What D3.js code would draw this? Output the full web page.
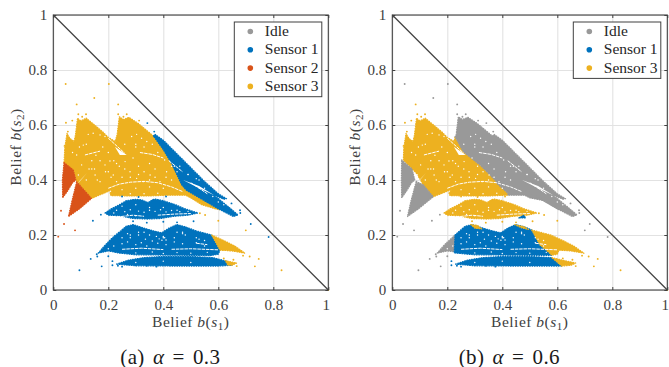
<!DOCTYPE html>
<html>
<head>
<meta charset="utf-8">
<script src="https://cdn.jsdelivr.net/npm/d3@7"></script>
<style>
html, body { margin: 0; padding: 0; background: #fff; }
text { font-family: "Liberation Serif", serif; fill: #262626; }
</style>
</head>
<body>
<div id="chart"></div>
<script>
var tickValues = [0, 0.2, 0.4, 0.6, 0.8, 1];
var tickLabels = ["0", "0.2", "0.4", "0.6", "0.8", "1"];
var actionNames = ["Idle", "Sensor 1", "Sensor 2", "Sensor 3"];
var actionColors = ["#999999", "#0072BD", "#D95319", "#EDB120"];

// region outlines, in belief coordinates
var upperLeftPart = [[.042,.52],[.05,.57],[.056,.558],[.062,.55],[.075,.54],[.08,.56],[.088,.625],[.1,.615],[.12,.625],[.15,.60],[.18,.575],[.2,.555],[.225,.54]];
var upperRightPart = [[.232,.565],[.24,.63],[.255,.62],[.275,.628],[.31,.605],[.34,.58],[.364,.56]];
var blueRidge = [[.37,.566],[.40,.545],[.45,.495],[.5,.445],[.55,.395],[.60,.35],[.63,.332],[.62,.33],[.585,.345],[.64,.30],[.672,.273],[.655,.267],[.6,.295],[.54,.33],[.485,.362]];
var lensBottom = [[.42,.345],[.35,.342],[.28,.342],[.21,.343],[.206,.352],[.215,.365]];

var orangeUpperA = [[.039,.464]].concat(upperLeftPart, upperRightPart, [[.40,.51],[.43,.46],[.467,.382],[.49,.362],[.55,.325],[.606,.292],[.59,.295],[.54,.31],[.5,.335],[.48,.345]], lensBottom, [[.139,.333],[.085,.394],[.073,.436]]);
var blueUpperA = [[.364,.56]].concat(blueRidge, [[.467,.382],[.43,.46],[.40,.51]]);
var redFingerOneA = [[.039,.464],[.073,.436],[.082,.40],[.07,.39],[.052,.36],[.034,.335],[.033,.40]];
var redFingerTwoA = [[.085,.394],[.115,.36],[.139,.333],[.095,.295],[.055,.267],[.068,.325]];

var orangeUpperB = [[.04,.473]].concat(upperLeftPart, [[.228,.557],[.258,.503],[.325,.449],[.373,.40],[.38,.388],[.42,.352]], lensBottom, [[.149,.339],[.113,.382],[.088,.424]]);
var grayUpperB = [[.228,.557]].concat(upperRightPart, blueRidge, [[.606,.292],[.55,.325],[.5,.335],[.48,.345],[.42,.345],[.42,.352],[.38,.388],[.373,.40],[.325,.449],[.258,.503]]);
var grayFingerOneB = [[.034,.473],[.072,.44],[.082,.40],[.07,.39],[.052,.36],[.034,.335],[.033,.40]];
var grayFingerTwoB = [[.087,.395],[.113,.382],[.149,.339],[.095,.295],[.055,.267],[.068,.325]];

var layerThree = [[.188,.28],[.21,.295],[.24,.31],[.265,.325],[.297,.33],[.32,.328],[.345,.318],[.36,.328],[.37,.331],[.40,.325],[.44,.312],[.48,.295],[.526,.28],[.49,.272],[.44,.268],[.39,.26],[.345,.258],[.29,.26],[.24,.27],[.2,.272]];
var blueLayerFourA = [[.163,.134],[.19,.165],[.22,.195],[.245,.215],[.265,.232],[.29,.238],[.32,.228],[.36,.216],[.394,.208],[.42,.225],[.449,.238],[.48,.23],[.52,.215],[.576,.2],[.606,.145],[.6,.13],[.57,.125],[.5,.126],[.4,.127],[.3,.128],[.235,.135],[.2,.142]];
var orangeLayerFourA = [[.576,.2],[.62,.18],[.66,.16],[.697,.134],[.65,.142],[.606,.145]];
var blueLayerFiveA = [[.23,.094],[.27,.108],[.33,.118],[.40,.122],[.5,.122],[.58,.118],[.63,.105],[.65,.09],[.6,.087],[.45,.087],[.3,.088]];
var orangeLayerFiveA = [[.625,.107],[.667,.098],[.65,.09],[.635,.09]];

var grayLayerFourB = [[.163,.134],[.19,.165],[.228,.2],[.225,.139],[.2,.142]];
var blueLayerFourB = [[.228,.2],[.245,.215],[.265,.232],[.29,.238],[.32,.228],[.36,.216],[.394,.208],[.42,.225],[.449,.238],[.48,.23],[.507,.218],[.537,.164],[.567,.139],[.58,.126],[.5,.126],[.4,.127],[.3,.128],[.225,.135]];
var orangeLayerFourB = [[.507,.218],[.52,.215],[.576,.2],[.62,.18],[.66,.16],[.697,.134],[.65,.142],[.606,.145],[.6,.13],[.58,.126],[.567,.139],[.537,.164]];
var orangePatchOneB = [[.285,.238],[.31,.235],[.325,.222],[.30,.225]];
var orangePatchTwoB = [[.445,.238],[.48,.23],[.495,.22],[.47,.226]];
var blueLayerFiveB = [[.23,.094],[.27,.108],[.33,.118],[.40,.122],[.5,.122],[.58,.118],[.616,.087],[.6,.087],[.45,.087],[.3,.088]];
var orangeLayerFiveB = [[.58,.118],[.625,.107],[.667,.098],[.65,.09],[.616,.087]];
var blueNotchB = [[.46,.262],[.478,.272],[.485,.262]];

var regionsA = [
    [3, orangeUpperA], [1, blueUpperA], [2, redFingerOneA], [2, redFingerTwoA],
    [1, layerThree], [1, blueLayerFourA], [3, orangeLayerFourA], [1, blueLayerFiveA], [3, orangeLayerFiveA]
];
var regionsB = [
    [3, orangeUpperB], [0, grayUpperB], [0, grayFingerOneB], [0, grayFingerTwoB],
    [3, layerThree], [0, grayLayerFourB], [1, blueLayerFourB], [3, orangeLayerFourB], [3, orangePatchOneB], [3, orangePatchTwoB],
    [1, blueLayerFiveB], [3, orangeLayerFiveB], [1, blueNotchB]
];

// white gaps in the cloud, same place in both panels
var gapPolygons = [
    [[.087,.385],[.125,.428],[.097,.398]],
    [[.224,.521],[.267,.491],[.242,.491]],
    [[.472,.40],[.53,.378],[.585,.345],[.53,.37]]
];
var gapLines = [
    [[.2,.37],[.24,.385],[.28,.392],[.33,.395],[.38,.39],[.43,.375],[.47,.358]],
    [[.115,.491],[.17,.505]],
    [[.2,.552],[.26,.497]],
    [[.315,.5],[.36,.493],[.4,.48]],
    [[.25,.148],[.32,.152],[.4,.147]],
    [[.43,.148],[.5,.15],[.6,.146]],
    [[.52,.17],[.56,.165]],
    [[.2,.262],[.29,.272],[.33,.268]],
    [[.38,.272],[.44,.276],[.5,.278]],
    [[.42,.47],[.47,.43]],
    [[.5,.39],[.56,.35]]
];
var speckX = [.127,.145,.17,.188,.285,.303,.321,.188,.206,.218,.261,.279,.303,.327,.352,.388,.091,.103,.152,.17,.23,.412,.109,.085,
    .23,.26,.28,.31,.33,.35,.37,.39,.41,.43,.46,.49,.25,.27,.30,.32,.34,.36,.38,.41,.44,.47,.52,.55,.28,.31,.335,.375,.41,.44,.47,.53,.3,.36,.4,.45,.5,.56,
    .14,.17,.2,.23,.26,.3,.34,.38,.44,.49,.53,.4,.385,.395,.405,.27,.33,.47,
    .07,.095,.12,.14,.155,.18,.2,.22,.24,.26,.29,.31,.33,.35,.37,.25,.28,.31,.35,.37,.41,.43,.13,.15,.19,.21,.12,.16,.3,.33,.36,
    .405,.43,.45,.46,.49,.52,.55,.58,.6,.62,.25,.3,.35,.4,.28,.33,.38,.25,.3,.35,.4,.45,.22,.27,.3,
    .2,.22,.25,.28,.31,.35,.4,.45,.48,.52,.55,.3,.4,.5];
var speckY = [.566,.57,.564,.558,.558,.566,.552,.455,.469,.418,.467,.43,.406,.394,.418,.394,.418,.455,.418,.394,.394,.43,.527,.491,
    .29,.285,.292,.287,.283,.29,.286,.292,.284,.289,.285,.286,.168,.175,.165,.172,.16,.178,.17,.165,.175,.168,.172,.16,.19,.2,.185,.195,.182,.19,.205,.185,.135,.138,.133,.136,.134,.137,
    .44,.47,.43,.46,.53,.52,.54,.5,.45,.42,.4,.195,.186,.181,.19,.205,.21,.21,
    .5,.52,.53,.47,.49,.52,.5,.47,.45,.44,.48,.45,.43,.46,.44,.41,.41,.42,.40,.41,.41,.40,.44,.44,.43,.41,.40,.40,.53,.52,.53,
    .473,.45,.43,.45,.42,.405,.37,.34,.32,.31,.365,.37,.375,.37,.35,.35,.352,.305,.31,.3,.3,.29,.28,.275,.27,
    .15,.16,.19,.2,.21,.2,.19,.21,.2,.19,.18,.1,.105,.1];

// isolated belief points, with the action taken in each panel
var strayX = [.045,.202,.149,.085,.236,.091,.119,.105,.069,.046,.053,.041,.236,.267,.255,.273,.312,.342,.367,.018,.039,.079,.028,.095,.136,.176,.144,.173,.783,.718,.648,.679,.83,.733,.747,.714,.70,.6,.552,.533,.667,1,.158,.16,.215,.235,.2,.215,.25,.30,.34,.375,.29,.34,.40,.45,.51,.62,.655,.69,.41,.31,.25,.65,.68];
var strayY = [.749,.749,.698,.675,.675,.639,.639,.63,.616,.608,.576,.524,.639,.639,.63,.616,.616,.607,.576,.194,.24,.217,.288,.072,.113,.086,.252,.274,.193,.24,.315,.29,.072,.086,.113,.122,.217,.252,.273,.279,.087,0,.13,.122,.105,.088,.123,.09,.085,.09,.088,.085,.25,.245,.248,.246,.25,.115,.11,.125,.34,.338,.34,.28,.28];
var strayClassA = [3,3,3,3,3,3,3,3,3,3,3,3,3,3,3,3,3,1,1,2,2,2,2,1,1,1,1,1,1,1,1,1,3,3,3,3,3,3,3,3,3,3,1,1,1,1,1,1,1,1,1,1,1,1,1,1,1,3,3,3,1,1,1,1,1];
var strayClassB = [0,0,0,3,0,3,3,3,3,3,3,3,0,0,0,0,0,0,0,0,0,0,0,0,0,0,0,0,0,0,0,0,3,3,3,3,0,3,3,3,3,3,0,0,1,1,0,1,1,1,1,1,3,3,3,3,3,3,3,3,3,3,3,0,0];

var margin = {left: 53.3, top: 15, size: 275};
var secondLeft = 392.3;

var svg = d3.select("#chart").append("svg")
    .attr("width", 669)
    .attr("height", 367)
    .style("display", "block");

function drawPanel(left, regions, strayClass, legendActions, letter, alpha) {
    var x = d3.scaleLinear().domain([0, 1]).range([left, left + margin.size]);
    var y = d3.scaleLinear().domain([0, 1]).range([margin.top + margin.size, margin.top]);
    var g = svg.append("g");

    var gridV = g.append("g").attr("transform", "translate(0," + y(0) + ")")
        .call(d3.axisBottom(x).tickValues(tickValues).tickFormat("").tickSize(-margin.size));
    var gridH = g.append("g").attr("transform", "translate(" + x(0) + ",0)")
        .call(d3.axisLeft(y).tickValues(tickValues).tickFormat("").tickSize(-margin.size));
    [gridV, gridH].forEach(function(a) {
        a.select(".domain").remove();
        a.selectAll("line").attr("stroke", "#e2e2e2").attr("stroke-width", 1.1);
    });

    var line = d3.line().x(function(d) { return x(d[0]); }).y(function(d) { return y(d[1]); });

    // dotted stroke gives the regions the grainy edge of a point cloud
    g.selectAll(".region").data(regions).enter().append("path")
        .attr("class", "region")
        .attr("d", function(d) { return line(d[1]) + "Z"; })
        .attr("fill", function(d) { return actionColors[d[0]]; })
        .attr("stroke", function(d) { return actionColors[d[0]]; })
        .attr("stroke-width", 1.2)
        .attr("stroke-dasharray", "0.7 1.7")
        .attr("stroke-linecap", "round")
        .attr("stroke-linejoin", "round");

    g.selectAll(".gap").data(gapPolygons).enter().append("path")
        .attr("class", "gap")
        .attr("d", function(d) { return line(d) + "Z"; })
        .attr("fill", "#fff");
    g.selectAll(".slit").data(gapLines).enter().append("path")
        .attr("class", "slit")
        .attr("d", line)
        .attr("fill", "none")
        .attr("stroke", "#fff")
        .attr("stroke-width", 1)
        .attr("stroke-dasharray", "3.5 0.8");
    g.selectAll(".speck").data(speckX).enter().append("circle")
        .attr("class", "speck")
        .attr("cx", function(d) { return x(d); })
        .attr("cy", function(d, i) { return y(speckY[i]); })
        .attr("r", 0.7)
        .attr("fill", "#fff");
    g.selectAll(".stray").data(strayX).enter().append("circle")
        .attr("class", "stray")
        .attr("cx", function(d) { return x(d); })
        .attr("cy", function(d, i) { return y(strayY[i]); })
        .attr("r", 0.95)
        .attr("fill", function(d, i) { return actionColors[strayClass[i]]; });

    // diagonal simplex edge
    g.append("path").attr("d", line([[0, 1], [1, 0]]))
        .attr("stroke", "#404040").attr("stroke-width", 1.25).attr("fill", "none");

    // box and mirrored ticks
    g.append("rect")
        .attr("x", x(0)).attr("y", y(1))
        .attr("width", margin.size).attr("height", margin.size)
        .attr("fill", "none").attr("stroke", "#404040").attr("stroke-width", 1.1);

    var labelOf = function(d) { return tickLabels[tickValues.indexOf(d)]; };
    var bottom = g.append("g").attr("transform", "translate(0," + y(0) + ")")
        .call(d3.axisBottom(x).tickValues(tickValues).tickFormat(labelOf).tickSizeInner(-3).tickSizeOuter(0).tickPadding(9));
    var leftAxis = g.append("g").attr("transform", "translate(" + x(0) + ",0)")
        .call(d3.axisLeft(y).tickValues(tickValues).tickFormat(labelOf).tickSizeInner(-3).tickSizeOuter(0).tickPadding(6));
    var top = g.append("g").attr("transform", "translate(0," + y(1) + ")")
        .call(d3.axisTop(x).tickValues(tickValues).tickFormat("").tickSizeInner(-3).tickSizeOuter(0));
    var right = g.append("g").attr("transform", "translate(" + x(1) + ",0)")
        .call(d3.axisRight(y).tickValues(tickValues).tickFormat("").tickSizeInner(-3).tickSizeOuter(0));
    [bottom, leftAxis, top, right].forEach(function(a) {
        a.select(".domain").remove();
        a.selectAll("line").attr("stroke", "#404040");
        a.selectAll("text")
            .style("font-family", '"Liberation Serif", serif')
            .style("font-size", "15px")
            .style("fill", "#404040");
    });
    // the last x label would run off the window on the right panel
    bottom.selectAll("text").filter(function(d) { return d === 1; }).attr("x", -2.5);

    // axis titles
    var xTitle = g.append("text")
        .attr("x", x(0.5)).attr("y", 327)
        .attr("text-anchor", "middle")
        .style("font-size", "15.5px").style("letter-spacing", "0.5px").style("fill", "#404040");
    addBelief(xTitle, "1");

    var yTitle = g.append("text")
        .attr("transform", "translate(" + (left - 32) + "," + y(0.52) + ") rotate(-90)")
        .attr("text-anchor", "middle")
        .style("font-size", "15.5px").style("letter-spacing", "0.5px").style("fill", "#404040");
    addBelief(yTitle, "2");

    // legend
    var rowH = 18.3;
    var lx = x(1) - 94;
    var legend = g.append("g");
    legend.append("rect")
        .attr("x", lx).attr("y", 22)
        .attr("width", 87.5).attr("height", legendActions.length * rowH + 1.5)
        .attr("fill", "#fff").attr("stroke", "#404040").attr("stroke-width", 1);
    var rows = legend.selectAll(".row").data(legendActions).enter().append("g")
        .attr("class", "row")
        .attr("transform", function(d, i) { return "translate(0," + (31.5 + i * rowH) + ")"; });
    rows.append("circle")
        .attr("cx", lx + 16).attr("r", 2.8)
        .attr("fill", function(d) { return actionColors[d]; });
    rows.append("text")
        .attr("x", lx + 30.5).attr("y", 4.5)
        .style("font-size", "15.5px")
        .text(function(d) { return actionNames[d]; });

    // caption
    var cap = svg.append("text")
        .attr("x", left + 117).attr("y", 363.5)
        .attr("text-anchor", "middle")
        .style("font-size", "21px")
        .style("letter-spacing", "0.4px")
        .style("word-spacing", "2.5px")
        .style("fill", "#1a1a1a");
    cap.append("tspan").text("(" + letter + ") ");
    cap.append("tspan").style("font-style", "italic").text("α");
    cap.append("tspan").text(" = " + alpha);
}

function addBelief(t, sub) {
    t.append("tspan").text("Belief ");
    t.append("tspan").style("font-style", "italic").text("b");
    t.append("tspan").text("(");
    t.append("tspan").style("font-style", "italic").text("s");
    t.append("tspan").attr("dy", 3).style("font-size", "11px").text(sub);
    t.append("tspan").attr("dy", -3).text(")");
}

drawPanel(margin.left, regionsA, strayClassA, [0, 1, 2, 3], "a", "0.3");
drawPanel(secondLeft, regionsB, strayClassB, [0, 1, 3], "b", "0.6");
</script>
</body>
</html>
